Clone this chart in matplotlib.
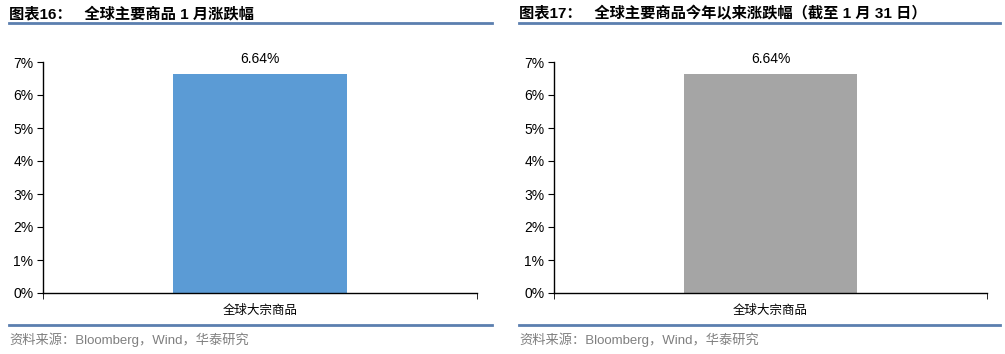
import matplotlib
matplotlib.use("Agg")
import matplotlib.pyplot as plt
from matplotlib.ticker import FuncFormatter

# data
categories = ["全球大宗商品"]
jan_change = [6.64]
ytd_change = [6.64]
titles = ["图表16：   全球主要商品 1 月涨跌幅",
          "图表17：   全球主要商品今年以来涨跌幅（截至 1 月 31 日）"]
source = "资料来源：Bloomberg，Wind，华泰研究"
yticks = [0, 1, 2, 3, 4, 5, 6, 7]

cjk = ["Noto Sans CJK SC", "DejaVu Sans"]
latin = ["Liberation Sans", "DejaVu Sans"]
mixed = ["Liberation Sans", "Noto Sans CJK SC"]
line_color = "#5B7FAF"

fig = plt.figure(figsize=(10.05, 3.54), dpi=100)
W, H = 1005, 354

panels = [
    dict(x0=9, x1=492, ax_l=43, ax_r=477, vals=jan_change, color="#5B9BD5", title=titles[0]),
    dict(x0=519, x1=1000, ax_l=554, ax_r=987, vals=ytd_change, color="#A5A5A5", title=titles[1]),
]

for p in panels:
    # title and rules
    fig.text(p["x0"] / W, 1 - 14 / H, p["title"], family=mixed, fontsize=11,
             fontweight="bold", va="center", ha="left")
    fig.add_artist(plt.Line2D([p["x0"] / W, p["x1"] / W], [1 - 23 / H] * 2,
                              color=line_color, lw=2, transform=fig.transFigure))
    fig.add_artist(plt.Line2D([p["x0"] / W, p["x1"] / W], [1 - 325 / H] * 2,
                              color=line_color, lw=2, transform=fig.transFigure))
    fig.text(p["x0"] / W, 1 - 340 / H, source, family=mixed, fontsize=9.5,
             color="#7F7F7F", va="center", ha="left")

    ax = fig.add_axes([p["ax_l"] / W, 1 - 293 / H, (p["ax_r"] - p["ax_l"]) / W, (293 - 62) / H])
    bars = ax.bar(categories, p["vals"], width=0.4, color=p["color"])
    ax.set_xlim(-0.5, 0.5)
    ax.set_ylim(0, 7)
    ax.set_yticks(yticks)
    ax.yaxis.set_major_formatter(FuncFormatter(lambda v, pos: f"{v:.0f}%"))
    for v, b in zip(p["vals"], bars):
        ax.text(b.get_x() + b.get_width() / 2, v + 0.25, f"{v:.2f}%", ha="center",
                va="bottom", family=latin, fontsize=10)
    ax.spines["top"].set_visible(False)
    ax.spines["right"].set_visible(False)
    ax.spines["left"].set_linewidth(1)
    ax.spines["bottom"].set_linewidth(1)
    ax.set_xticks([-0.5, 0.5], minor=True)
    ax.tick_params(axis="x", which="major", length=0, pad=8)
    ax.tick_params(axis="x", which="minor", direction="out", length=4)
    ax.tick_params(axis="y", direction="out", length=4, pad=3)
    for lab in ax.get_yticklabels():
        lab.set_family(latin)
        lab.set_fontsize(10)
    for lab in ax.get_xticklabels():
        lab.set_family(cjk)
        lab.set_fontsize(9)

fig.savefig("out.png", dpi=100)
